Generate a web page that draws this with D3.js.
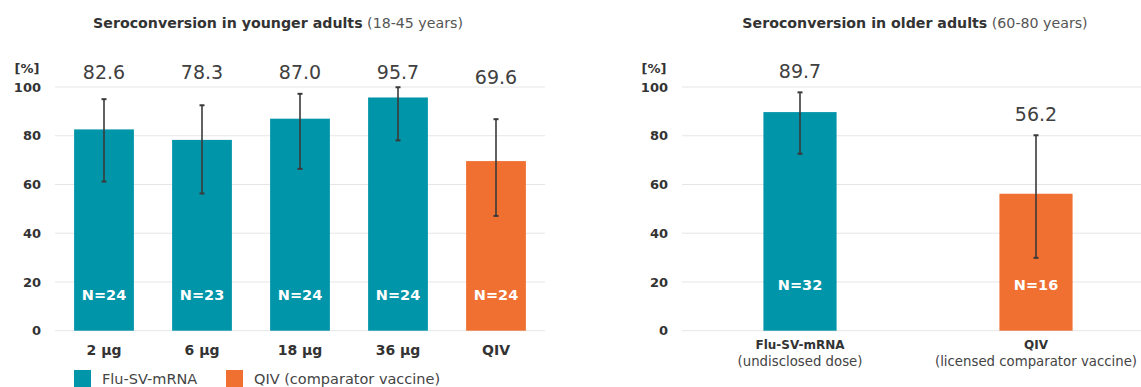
<!DOCTYPE html>
<html><head><meta charset="utf-8">
<script src="https://cdn.jsdelivr.net/npm/d3@7"></script>
<style>body{margin:0;background:#fff}svg{display:block;font-family:"DejaVu Sans",Verdana,sans-serif}</style>
</head><body><svg id="c" width="1141" height="387"></svg>
<script>
// ---- data ----
const yTicks = [0, 20, 40, 60, 80, 100];
const youngCategories = ["2 µg", "6 µg", "18 µg", "36 µg", "QIV"];
const youngGroups = ["mRNA", "mRNA", "mRNA", "mRNA", "QIV"];
const youngValues = [82.6, 78.3, 87.0, 95.7, 69.6];
const youngLow = [61.2, 56.3, 66.4, 78.1, 47.1];
const youngHigh = [95.0, 92.5, 97.2, 99.9, 86.8];
const youngN = ["N=24", "N=23", "N=24", "N=24", "N=24"];

const olderCategories = ["Flu-SV-mRNA", "QIV"];
const olderSubLabels = ["(undisclosed dose)", "(licensed comparator vaccine)"];
const olderGroups = ["mRNA", "QIV"];
const olderValues = [89.7, 56.2];
const olderLow = [72.6, 29.9];
const olderHigh = [97.8, 80.2];
const olderN = ["N=32", "N=16"];

const legendLabels = ["Flu-SV-mRNA", "QIV (comparator vaccine)"];
const groupKeys = ["mRNA", "QIV"];

// ---- styling ----
const color = d3.scaleOrdinal().domain(groupKeys).range(["#0095a9", "#f07032"]);
const svg = d3.select("#c");
const y = d3.scaleLinear().domain([0, 100]).range([330.7, 87]);

function panel(o) {
  const g = svg.append("g");
  const x = d3.scaleBand().domain(o.cats).range(o.xr).paddingInner(o.pi).paddingOuter(o.po);
  // title
  const t = g.append("text").attr("x", o.titleX).attr("y", 23).attr("text-anchor", "middle")
    .attr("dominant-baseline", "central").attr("font-size", 14.2).attr("fill", "#333");
  t.append("tspan").attr("font-weight", "bold").text(o.titleBold);
  t.append("tspan").attr("fill", "#555").text(" " + o.titleRest);
  // grid
  g.selectAll(".grid").data(yTicks).join("line")
    .attr("x1", o.gridX[0]).attr("x2", o.gridX[1])
    .attr("y1", d => y(d)).attr("y2", d => y(d))
    .attr("stroke", "#e6e6e6").attr("stroke-width", 1);
  // y axis labels
  const ya = d3.axisLeft(y).tickValues(yTicks).tickSize(0).tickPadding(0);
  const yg = g.append("g").attr("transform", `translate(${o.yLabelX},0)`).call(ya);
  yg.select(".domain").remove();
  yg.selectAll("text").attr("font-size", 13).attr("font-weight", "bold").attr("fill", "#333")
    .attr("font-family", "DejaVu Sans, Verdana, sans-serif");
  g.append("text").attr("x", o.yLabelX - 14).attr("y", 68).attr("text-anchor", "middle")
    .attr("dominant-baseline", "central").attr("font-size", 13).attr("font-weight", "bold")
    .attr("fill", "#333").text("[%]");
  const idx = d3.range(o.cats.length);
  // bars
  g.selectAll(".bar").data(idx).join("rect")
    .attr("x", i => x(o.cats[i])).attr("width", x.bandwidth())
    .attr("y", i => y(o.vals[i])).attr("height", i => y(0) - y(o.vals[i]))
    .attr("fill", i => color(o.groups[i]));
  // error bars
  const eb = g.selectAll(".eb").data(idx).join("g")
    .attr("transform", i => `translate(${x(o.cats[i]) + x.bandwidth() / 2},0)`);
  eb.append("line").attr("y1", i => y(o.lo[i])).attr("y2", i => y(o.hi[i]))
    .attr("stroke", "#3a3a3a").attr("stroke-width", 1.6);
  eb.append("line").attr("x1", -2.5).attr("x2", 2.5).attr("y1", i => y(o.lo[i])).attr("y2", i => y(o.lo[i]))
    .attr("stroke", "#3a3a3a").attr("stroke-width", 2);
  eb.append("line").attr("x1", -2.5).attr("x2", 2.5).attr("y1", i => y(o.hi[i])).attr("y2", i => y(o.hi[i]))
    .attr("stroke", "#3a3a3a").attr("stroke-width", 2);
  // value labels
  g.selectAll(".val").data(idx).join("text")
    .attr("x", i => x(o.cats[i]) + x.bandwidth() / 2)
    .attr("y", i => o.valY(o.hi[i]))
    .attr("text-anchor", "middle").attr("dominant-baseline", "central")
    .attr("font-size", 19).attr("fill", "#404040").text(i => o.vals[i].toFixed(1));
  // N labels
  g.selectAll(".n").data(idx).join("text")
    .attr("x", i => x(o.cats[i]) + x.bandwidth() / 2).attr("y", o.nY)
    .attr("text-anchor", "middle").attr("dominant-baseline", "central")
    .attr("font-size", 14.5).attr("font-weight", "bold").attr("fill", "#fff").text(i => o.ns[i]);
  // x labels
  g.selectAll(".xl").data(idx).join("text")
    .attr("x", i => x(o.cats[i]) + x.bandwidth() / 2).attr("y", o.xLabelY)
    .attr("text-anchor", "middle").attr("dominant-baseline", "central")
    .attr("font-size", o.xLabelSize).attr("font-weight", "bold").attr("fill", "#333").text(i => o.cats[i]);
  if (o.subs) {
    g.selectAll(".xs").data(idx).join("text")
      .attr("x", i => x(o.cats[i]) + x.bandwidth() / 2).attr("y", o.xLabelY + 16)
      .attr("text-anchor", "middle").attr("dominant-baseline", "central")
      .attr("font-size", 13.3).attr("fill", "#444").text(i => o.subs[i]);
  }
}

panel({
  cats: youngCategories, groups: youngGroups, vals: youngValues, lo: youngLow, hi: youngHigh, ns: youngN,
  xr: [55, 545], pi: 0.39, po: 0.195, gridX: [55, 545], yLabelX: 41,
  titleX: 278, titleBold: "Seroconversion in younger adults", titleRest: "(18-45 years)",
  valY: hi => Math.max(y(100) - 15, y(hi) - 42), nY: 295, xLabelY: 350, xLabelSize: 14
});
panel({
  cats: olderCategories, groups: olderGroups, vals: olderValues, lo: olderLow, hi: olderHigh, ns: olderN,
  subs: olderSubLabels,
  xr: [682, 1154], pi: 0.69, po: 0.345, gridX: [682, 1141], yLabelX: 668,
  titleX: 915, titleBold: "Seroconversion in older adults", titleRest: "(60-80 years)",
  valY: hi => y(hi) - 21, nY: 285, xLabelY: 345, xLabelSize: 12
});

// legend
const lg = svg.append("g");
const lx = d3.scaleOrdinal().domain(groupKeys).range([74, 226]);
lg.selectAll("rect").data(groupKeys).join("rect")
  .attr("x", d => lx(d)).attr("y", 370).attr("width", 17).attr("height", 17).attr("fill", d => color(d));
lg.selectAll("text").data(groupKeys).join("text")
  .attr("x", d => lx(d) + 28).attr("y", 379).attr("dominant-baseline", "central")
  .attr("font-size", 14.5).attr("fill", "#444").text((d, i) => legendLabels[i]);
</script></body></html>
